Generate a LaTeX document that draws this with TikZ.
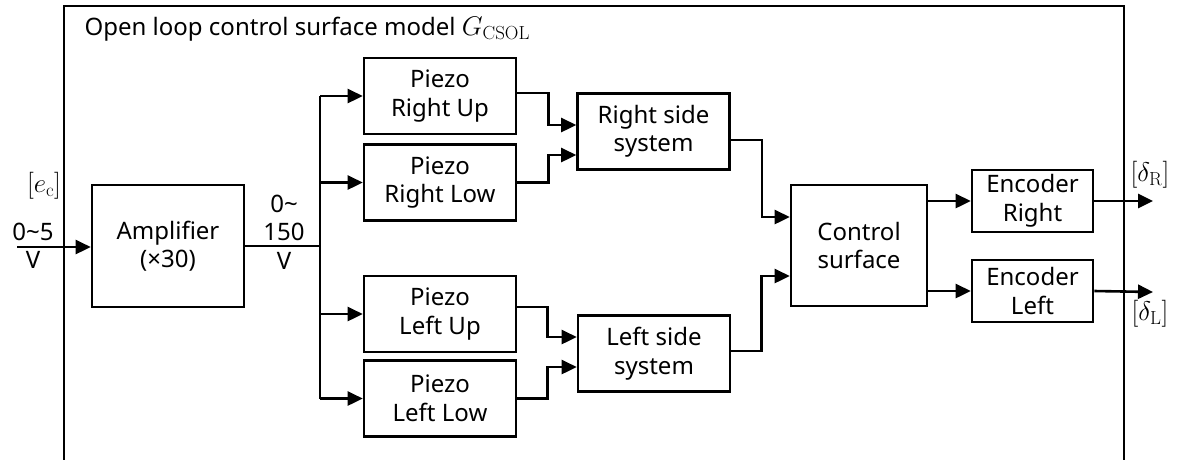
\RequirePackage{fix-cm}
\documentclass[tikz,border=0pt]{standalone}
\usepackage[no-math]{fontspec}
\setmainfont{Noto Sans}
\usetikzlibrary{arrows.meta}

\begin{document}
\begin{tikzpicture}[x=1pt, y=-1pt, line width=2.6pt,
        every node/.style={font=\fontsize{24}{28.5}\selectfont, align=center},
        blk/.style={draw, rectangle, inner sep=0pt},
        piezo/.style={blk, minimum width=152pt, minimum height=76pt},
        enc/.style={blk, minimum width=121pt, minimum height=62pt},
        sym/.style={font=\fontsize{27}{30}\selectfont},
        sig/.style={-{Triangle[length=15pt,width=14pt]}}]

        \useasboundingbox (0,0) rectangle (1177,459);

        % Outer frame and its title
        \draw (64,460) -- (64,6) -- (1124,6) -- (1124,460);
        \node[anchor=west] (title) at (80,29) {Open loop control surface model {\fontsize{27}{30}\selectfont$G_{\mathrm{CSOL}}$}};

        % Blocks
        \node[blk, minimum width=152pt, minimum height=122pt] (amp) at (168,246) {Amplifier\\(×30)};
        \node[piezo] (pru) at (440,96) {Piezo\\Right Up};
        \node[piezo] (prl) at (440,182.5) {Piezo\\Right Low};
        \node[piezo] (plu) at (440,314) {Piezo\\Left Up};
        \node[piezo] (pll) at (440,398.5) {Piezo\\Left Low};
        \node[piezo] (rss) at (653.5,131.5) {Right side\\system};
        \node[piezo] (lss) at (654,353.5) {Left side\\system};
        \node[blk, minimum width=136pt, minimum height=121pt] (cs) at (859,245.5) {Control\\surface};
        \node[enc] (encr) at (1032.5,201) {Encoder\\Right};
        \node[enc] (encl) at (1032.5,291) {Encoder\\Left};

        % Signal ends
        \coordinate (in) at (17,247);
        \coordinate (bus) at (320,246);
        \coordinate (outR) at (1153,201);
        \coordinate (outL) at (1153,292);

        % Signal labels
        \node[sym] (ec) at (44,186) {$[e_{\mathrm{c}}]$};
        \node (inrange) at (33,246) {0\textasciitilde5\\V};
        \node (amprange) at (284,232) {0\textasciitilde\\150\\V};
        \node[sym] (dR) at (1150,175) {$[\delta_{\mathrm{R}}]$};
        \node[sym] (dL) at (1150,314) {$[\delta_{\mathrm{L}}]$};

        % Connectors
        \draw[sig] (in) -- (amp.west |- in);
        \draw (amp.east) -- (bus);
        \draw (bus |- pru) -- (bus |- pll);
        \foreach \p in {pru,prl,plu,pll}
            \draw[sig] (bus |- \p) -- (\p.west);
        \draw[sig] ([yshift=3pt]pru.east) -- ++(31,0) |- ([yshift=6.5pt]rss.west);
        \draw[sig] (prl.east) -- ++(31,0) |- ([yshift=-23.5pt]rss.west);
        \draw[sig] ([yshift=7pt]plu.east) -- ++(30,0) |- ([yshift=16.5pt]lss.west);
        \draw[sig] (pll.east) -- ++(30,0) |- ([yshift=-13.5pt]lss.west);
        \draw[sig] ([yshift=-8.5pt]rss.east) -- ++(31,0) |- ([yshift=28.5pt]cs.west);
        \draw[sig] ([yshift=2.5pt]lss.east) -- ++(30,0) |- ([yshift=-30.5pt]cs.west);
        \draw[sig] (cs.east |- encr) -- (encr.west);
        \draw[sig] (cs.east |- encl) -- (encl.west);
        \draw[sig] (encr.east) -- (outR);
        \draw[sig] (encl.east) -- (outL);
\end{tikzpicture}
\end{document}
